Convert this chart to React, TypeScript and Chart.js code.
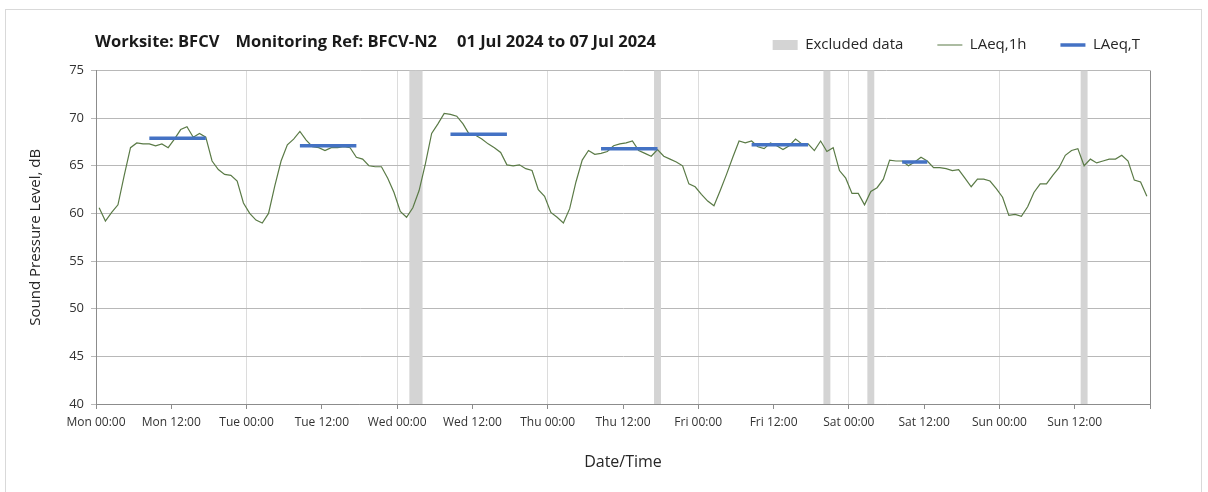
import React, { useEffect, useRef } from 'react';
import { Chart, registerables } from 'chart.js';

Chart.register(...registerables);

const FONT = '"Open Sans", "Noto Sans", sans-serif';

const titleParts = ['Worksite: BFCV', 'Monitoring Ref: BFCV-N2', '01 Jul 2024 to 07 Jul 2024'];

const tickLabels = [
  'Mon 00:00', 'Mon 12:00', 'Tue 00:00', 'Tue 12:00', 'Wed 00:00', 'Wed 12:00', 'Thu 00:00',
  'Thu 12:00', 'Fri 00:00', 'Fri 12:00', 'Sat 00:00', 'Sat 12:00', 'Sun 00:00', 'Sun 12:00',
];

const yTicks = [40, 45, 50, 55, 60, 65, 70, 75];

// hourly LAeq,1h values, Mon 00:00 .. Sun 23:00
const laeq1h = [
  60.6, 59.2, 60.1, 60.9, 64.0, 66.9, 67.4, 67.3, 67.3, 67.1, 67.3, 66.9,
  67.8, 68.8, 69.1, 68.0, 68.4, 68.0, 65.5, 64.6, 64.1, 64.0, 63.4, 61.1,
  60.0, 59.3, 59.0, 60.0, 62.9, 65.5, 67.2, 67.8, 68.6, 67.7, 67.0, 66.9,
  66.6, 66.9, 66.9, 67.0, 66.9, 65.9, 65.7, 65.0, 64.9, 64.9, 63.7, 62.2,
  60.2, 59.6, 60.6, 62.4, 65.2, 68.4, 69.4, 70.5, 70.4, 70.2, 69.4, 68.3,
  68.2, 67.8, 67.3, 66.9, 66.4, 65.1, 65.0, 65.1, 64.7, 64.5, 62.5, 61.8,
  60.1, 59.6, 59.0, 60.5, 63.3, 65.6, 66.6, 66.2, 66.3, 66.5, 67.1, 67.3,
  67.4, 67.6, 66.6, 66.3, 66.0, 66.7, 66.0, 65.7, 65.4, 65.0, 63.1, 62.8,
  62.0, 61.3, 60.8, 62.4, 64.1, 65.9, 67.6, 67.4, 67.6, 67.0, 66.8, 67.4,
  67.1, 66.7, 67.1, 67.8, 67.3, 67.3, 66.6, 67.6, 66.5, 66.9, 64.5, 63.7,
  62.1, 62.1, 60.9, 62.3, 62.7, 63.6, 65.6, 65.5, 65.5, 65.0, 65.4, 65.9,
  65.5, 64.8, 64.8, 64.7, 64.5, 64.6, 63.7, 62.8, 63.6, 63.6, 63.4, 62.6,
  61.7, 59.8, 59.9, 59.7, 60.7, 62.2, 63.1, 63.1, 64.0, 64.8, 66.1, 66.6,
  66.8, 65.0, 65.7, 65.3, 65.5, 65.7, 65.7, 66.1, 65.5, 63.5, 63.3, 61.8,
];

// hours (from Mon 00:00) flagged as excluded data
const excludedHours = [50, 51, 89, 116, 123, 157];

// LAeq,T periods: start hour, end hour, level
const laeqTStart = [8, 32, 56, 80, 104, 128];
const laeqTEnd = [18, 42, 66, 90, 114, 133];
const laeqTValues = [67.9, 67.1, 68.3, 66.8, 67.2, 65.4];

const COLOR_EXCL = '#D4D4D4';
const COLOR_1H = '#5A7A46';
const COLOR_T = '#4472C4';

const headerPlugin = {
  id: 'headerText',
  afterDraw(chart: any) {
    const ctx = chart.ctx;
    ctx.save();
    ctx.font = `bold 16.5px ${FONT}`;
    ctx.fillStyle = '#1a1a1a';
    ctx.textBaseline = 'middle';
    ctx.textAlign = 'left';
    const gaps = [16, 20];
    let x = chart.chartArea.left - 1;
    titleParts.forEach((p, i) => {
      ctx.fillText(p, x, 42);
      x += ctx.measureText(p).width + (gaps[i] ?? 0);
    });
    ctx.restore();
  },
};

export default function App() {
  const canvasRef = useRef<HTMLCanvasElement | null>(null);

  useEffect(() => {
    if (!canvasRef.current) return;

    const laeqTData: any[] = [];
    laeqTStart.forEach((s, i) => {
      laeqTData.push({ x: s + 0.5, y: laeqTValues[i] });
      laeqTData.push({ x: laeqTEnd[i] - 0.5, y: laeqTValues[i] });
      laeqTData.push({ x: laeqTEnd[i], y: null });
    });

    const chart = new Chart(canvasRef.current, {
      type: 'line',
      data: {
        datasets: [
          {
            type: 'bar',
            label: 'Excluded data',
            data: excludedHours.map((h) => ({ x: h + 0.5, y: [yTicks[0], yTicks[yTicks.length - 1]] })) as any,
            backgroundColor: COLOR_EXCL,
            borderWidth: 0,
            barPercentage: 1,
            categoryPercentage: 1,
            order: 3,
          } as any,
          {
            type: 'line',
            label: 'LAeq,1h',
            data: laeq1h.map((v, i) => ({ x: i + 0.5, y: v })),
            borderColor: COLOR_1H,
            backgroundColor: COLOR_1H,
            borderWidth: 1.2,
            pointRadius: 0,
            tension: 0,
            order: 2,
          },
          {
            type: 'line',
            label: 'LAeq,T',
            data: laeqTData,
            borderColor: COLOR_T,
            backgroundColor: COLOR_T,
            borderWidth: 3.5,
            pointRadius: 0,
            spanGaps: false,
            order: 1,
          },
        ],
      },
      options: {
        responsive: false,
        animation: false,
        devicePixelRatio: 1,
        layout: { padding: { top: 3.5, right: 34, bottom: 0, left: 0 } },
        plugins: {
          tooltip: { enabled: false },
          title: { display: false },
          legend: {
            display: true,
            position: 'top',
            align: 'end',
            labels: {
              usePointStyle: true,
              pointStyleWidth: 25,
              boxHeight: 10,
              padding: 34,
              color: '#262626',
              font: { family: FONT, size: 15 },
              generateLabels: () => [
                { text: 'Excluded data', fillStyle: COLOR_EXCL, strokeStyle: COLOR_EXCL, lineWidth: 0, pointStyle: 'rect', datasetIndex: 0, hidden: false, fontColor: '#262626' },
                { text: 'LAeq,1h', fillStyle: COLOR_1H, strokeStyle: COLOR_1H, lineWidth: 1.2, pointStyle: 'line', datasetIndex: 1, hidden: false, fontColor: '#262626' },
                { text: 'LAeq,T', fillStyle: COLOR_T, strokeStyle: COLOR_T, lineWidth: 3.5, pointStyle: 'line', datasetIndex: 2, hidden: false, fontColor: '#262626' },
              ] as any,
            },
          },
        },
        scales: {
          x: {
            type: 'linear',
            position: 'bottom',
            min: 0,
            max: tickLabels.length * 12,
            offset: false,
            grid: {
              offset: false,
              color: (c: any) => {
                const v = c.tick ? c.tick.value : -1;
                if (v === tickLabels.length * 12) return '#8C8C8C';
                return v % 24 === 0 ? '#DCDCDC' : 'rgba(0,0,0,0)';
              },
              tickColor: '#8C8C8C',
              tickLength: 5,
              lineWidth: 1,
            },
            border: { color: '#8C8C8C', width: 1 },
            ticks: {
              stepSize: 12,
              autoSkip: false,
              maxRotation: 0,
              minRotation: 0,
              padding: 6,
              color: '#333333',
              font: { family: FONT, size: 12 },
              callback: (_v: any, i: number) => tickLabels[i] ?? '',
            },
            title: {
              display: true,
              text: 'Date/Time',
              color: '#262626',
              font: { family: FONT, size: 16 },
              padding: { top: 0, bottom: 20 },
            },
            afterFit: (s: any) => { s.height = 88; },
          },
          xTop: {
            type: 'linear',
            axis: 'x',
            position: 'top',
            display: true,
            grid: { display: false },
            border: { display: false },
            ticks: { display: false },
            afterFit: (s: any) => { s.height = 8; },
          },
          y: {
            type: 'linear',
            position: 'left',
            min: yTicks[0],
            max: yTicks[yTicks.length - 1],
            grid: { color: '#B8B8B8', tickLength: 5, lineWidth: 1 },
            border: { color: '#8C8C8C', width: 1 },
            ticks: {
              stepSize: 5,
              padding: 7,
              color: '#333333',
              font: { family: FONT, size: 13 },
            },
            title: {
              display: true,
              text: 'Sound Pressure Level, dB',
              color: '#262626',
              font: { family: FONT, size: 15 },
              padding: { top: 27, bottom: 0 },
            },
            afterFit: (s: any) => { s.width = 96; },
          },
          yRight: {
            type: 'linear',
            axis: 'y',
            position: 'right',
            display: true,
            grid: { display: false },
            border: { display: false },
            ticks: { display: false },
            afterFit: (s: any) => { s.width = 24; },
          },
        },
      } as any,
      plugins: [headerPlugin],
    });

    return () => chart.destroy();
  }, []);

  return (
    <div style={{ position: 'fixed', left: 0, top: 0, width: 1208, height: 492, overflow: 'hidden', background: '#fff' }}>
      <div style={{ position: 'absolute', left: 5, top: 9, width: 1197, height: 490, border: '1px solid #D9D9D9', boxSizing: 'border-box' }} />
      <canvas ref={canvasRef} width={1208} height={492} style={{ position: 'absolute', left: 0, top: 0, width: 1208, height: 492 }} />
    </div>
  );
}
